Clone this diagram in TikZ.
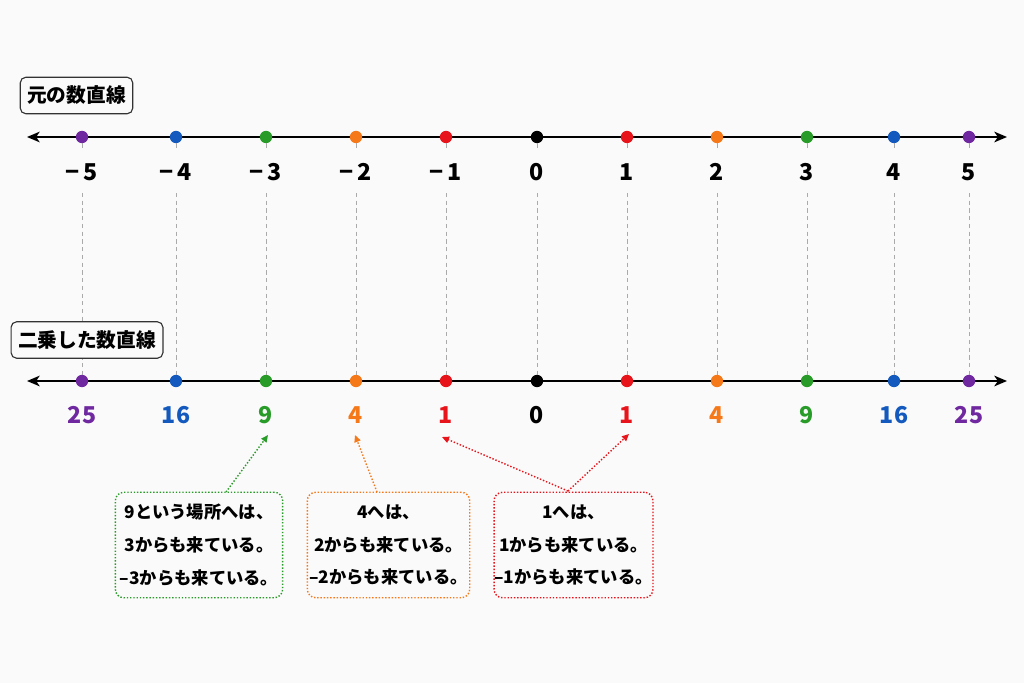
\documentclass[tikz,border=0pt]{standalone}
\usepackage{fontspec}
\setmainfont{Noto Sans CJK JP}
\usetikzlibrary{arrows.meta}
\definecolor{bg}{RGB}{250,250,250}
\definecolor{cpurple}{RGB}{112,40,160}
\definecolor{cblue}{RGB}{20,90,190}
\definecolor{cgreen}{RGB}{40,155,40}
\definecolor{corange}{RGB}{245,120,25}
\definecolor{cred}{RGB}{232,20,28}
\definecolor{cblack}{RGB}{0,0,0}
\definecolor{guidegray}{RGB}{170,170,170}
\tikzset{
  axisline/.style={line width=1.5pt,{Stealth[length=9pt,width=7.5pt,inset=2.5pt]}-{Stealth[length=9pt,width=7.5pt,inset=2.5pt]}},
  dotpt/.style={circle,fill=#1,inner sep=0pt,minimum size=8.8pt},
  guide/.style={guidegray,line width=0.6pt,dash pattern=on 3pt off 2.5pt},
  numlbl/.style={font=\fontsize{16.5}{18}\selectfont\bfseries,text=#1,inner sep=1pt},
  titlebox/.style={draw=black!80,line width=0.8pt,rounded corners=4pt,fill=bg,font=\fontsize{14}{16}\selectfont\bfseries,minimum height=26pt,inner xsep=5pt},
  cbox/.style={draw=#1,line width=1pt,dash pattern=on 1pt off 1.3pt,rounded corners=6pt,fill=bg,align=center,
    font=\fontsize{12.3}{23.4}\selectfont\bfseries,inner sep=0pt,minimum height=75pt},
  carrow/.style={draw=#1,line width=1pt,dash pattern=on 1pt off 1.3pt,-{Triangle[length=5pt,width=4.5pt]}},
}
\begin{document}
\begin{tikzpicture}[x=0.025cm,y=-0.025cm]
\useasboundingbox[fill=bg] (0,0) rectangle (1024,683);
% axes
\coordinate (tL) at (27,137);
\coordinate (tR) at (1007,137);
\coordinate (bL) at (27,381);
\coordinate (bR) at (1007,381);
\draw[axisline] (tL) -- (tR);
\draw[axisline] (bL) -- (bR);
% points
\foreach \x/\tl/\bl/\c [count=\i] in {
  82/{−\,5}/25/cpurple, 176/{−\,4}/16/cblue, 266/{−\,3}/9/cgreen, 356/{−\,2}/4/corange,
  446/{−\,1}/1/cred, 537/0/0/cblack, 627/1/1/cred, 717/2/4/corange,
  807/3/9/cgreen, 894/4/16/cblue, 969/5/25/cpurple}{
  \coordinate (g\i) at (\x,193);
  \coordinate (h\i) at (\x,150);
  \node[dotpt=\c] (t\i) at (\x,137) {};
  \node[dotpt=\c] (b\i) at (\x,381) {};
  \draw[guide] (t\i.south) -- (h\i);
  \draw[guide] (g\i) -- (b\i.north);
  \node[numlbl=black] (tl\i) at (\x,172) {\tl};
  \node[numlbl=\c] (bl\i) at (\x,415) {\bl};
}
% titles
\node[titlebox] (title1) at (76.5,95.5) {元の数直線};
\node[titlebox] (title2) at (87,340) {二乗した数直線};
% callouts
\node[cbox=cgreen,minimum width=119pt] (gbox) at (199,545) {9という場所へは、\\3からも来ている。\\–3からも来ている。};
\node[cbox=corange,minimum width=115.5pt] (obox) at (388.5,545) {4へは、\\2からも来ている。\\–2からも来ている。};
\node[cbox=cred,minimum width=113pt] (rbox) at (573.5,545) {1へは、\\1からも来ている。\\–1からも来ている。};
\coordinate (gs) at (226,492);
\coordinate (ge) at (268,435);
\coordinate (os) at (377,492);
\coordinate (oe) at (355,435);
\coordinate (rs) at (568,491);
\coordinate (re1) at (442,437);
\coordinate (re2) at (629,434);
\draw[carrow=cgreen] (gs) -- (ge);
\draw[carrow=corange] (os) -- (oe);
\draw[carrow=cred] (rs) -- (re1);
\draw[carrow=cred] (rs) -- (re2);
\end{tikzpicture}
\end{document}
